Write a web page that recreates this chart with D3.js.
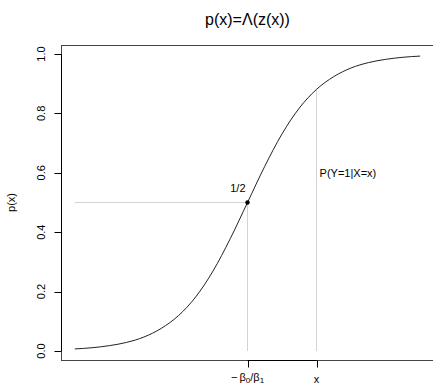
<!DOCTYPE html>
<html>
<head>
<meta charset="utf-8">
<script src="https://cdn.jsdelivr.net/npm/d3@7"></script>
<style>
  body { margin: 0; background: #fff; }
  svg { display: block; font-family: "Liberation Sans", Arial, sans-serif; }
</style>
</head>
<body>
<div id="chart"></div>
<script>
// values (x in units of beta1, centred on -beta0/beta1)
const curveX = [-5, -4.5, -4, -3.5, -3, -2.5, -2, -1.5, -1, -0.5, 0, 0.5, 1, 1.5, 2, 2.5, 3, 3.5, 4, 4.5, 5];
const curveP = [0.007, 0.011, 0.018, 0.029, 0.047, 0.076, 0.119, 0.182, 0.269, 0.378, 0.5,
  0.622, 0.731, 0.818, 0.881, 0.924, 0.953, 0.971, 0.982, 0.989, 0.993];
const yTicks = [0, 0.2, 0.4, 0.6, 0.8, 1.0];
const yTickLabels = ['0.0', '0.2', '0.4', '0.6', '0.8', '1.0'];
const xMarks = [0, 2];
const midP = 0.5;

const config = {
  width: 433,
  height: 386,
  plot: {left: 61, right: 434, top: 45, bottom: 360}
};

const svg = d3.select('#chart').append('svg')
  .attr('width', config.width)
  .attr('height', config.height);

const x = d3.scaleLinear().domain([-5.4, 5.4]).range([config.plot.left, config.plot.right]);
const y = d3.scaleLinear().domain([0, 1]).range([351, 54]);

const points = curveX.map((v, i) => ({x: v, p: curveP[i]}));

// reference lines
svg.append('line')
  .attr('x1', x(curveX[0])).attr('x2', x(xMarks[0]))
  .attr('y1', y(midP)).attr('y2', y(midP))
  .attr('stroke', '#d3d3d3').attr('stroke-width', 1);
svg.append('line')
  .attr('x1', x(xMarks[0])).attr('x2', x(xMarks[0]))
  .attr('y1', y(midP)).attr('y2', y(0))
  .attr('stroke', '#d3d3d3').attr('stroke-width', 1);
svg.append('line')
  .attr('x1', x(xMarks[1])).attr('x2', x(xMarks[1]))
  .attr('y1', y(curveP[curveX.indexOf(xMarks[1])])).attr('y2', y(0))
  .attr('stroke', '#d3d3d3').attr('stroke-width', 1);

// logistic curve
svg.append('path')
  .datum(points)
  .attr('fill', 'none')
  .attr('stroke', '#222')
  .attr('stroke-width', 1)
  .attr('d', d3.line().x(d => x(d.x)).y(d => y(d.p)).curve(d3.curveMonotoneX));

svg.append('circle')
  .attr('cx', x(xMarks[0])).attr('cy', y(midP))
  .attr('r', 2.2).attr('fill', '#000');

// plot box
svg.append('rect')
  .attr('x', config.plot.left + 0.5).attr('y', config.plot.top + 0.5)
  .attr('width', config.plot.right - config.plot.left)
  .attr('height', config.plot.bottom - config.plot.top)
  .attr('fill', 'none').attr('stroke', '#444').attr('stroke-width', 1);

// y axis
const yAxis = svg.append('g');
yAxis.append('line')
  .attr('x1', config.plot.left + 0.5).attr('x2', config.plot.left + 0.5)
  .attr('y1', y(0)).attr('y2', y(1))
  .attr('stroke', '#000');
yTicks.forEach((t, i) => {
  yAxis.append('line')
    .attr('x1', config.plot.left + 0.5).attr('x2', config.plot.left - 6.5)
    .attr('y1', Math.round(y(t)) + 0.5).attr('y2', Math.round(y(t)) + 0.5)
    .attr('stroke', '#000');
  yAxis.append('text')
    .attr('transform', `translate(45,${y(t)}) rotate(-90)`)
    .attr('text-anchor', 'middle')
    .attr('font-size', 11)
    .attr('fill', '#000')
    .text(yTickLabels[i]);
});
svg.append('text')
  .attr('transform', `translate(15,${(config.plot.top + config.plot.bottom) / 2}) rotate(-90)`)
  .attr('text-anchor', 'middle')
  .attr('font-size', 11)
  .text('p(x)');

// x axis (only the two marked positions)
const xAxis = svg.append('g');
xAxis.append('line')
  .attr('x1', x(xMarks[0])).attr('x2', x(xMarks[1]))
  .attr('y1', config.plot.bottom + 0.5).attr('y2', config.plot.bottom + 0.5)
  .attr('stroke', '#000');
xMarks.forEach(m => {
  xAxis.append('line')
    .attr('x1', Math.round(x(m)) + 0.5).attr('x2', Math.round(x(m)) + 0.5)
    .attr('y1', config.plot.bottom + 0.5).attr('y2', config.plot.bottom + 7.5)
    .attr('stroke', '#000');
});
const lab0 = xAxis.append('text')
  .attr('x', x(xMarks[0])).attr('y', 381)
  .attr('text-anchor', 'middle')
  .attr('font-size', 11);
lab0.append('tspan').text('\u2212\u2009\u03b2');
lab0.append('tspan').attr('font-size', 8).attr('dy', 1.5).text('0');
lab0.append('tspan').attr('dy', -1.5).text('/\u03b2');
lab0.append('tspan').attr('font-size', 8).attr('dy', 1.5).text('1');
xAxis.append('text')
  .attr('x', x(xMarks[1])).attr('y', 383)
  .attr('text-anchor', 'middle')
  .attr('font-size', 11)
  .text('x');

// annotations
svg.append('text')
  .attr('x', x(xMarks[0]) - 2).attr('y', 192)
  .attr('text-anchor', 'end')
  .attr('font-size', 11)
  .text('1/2');
svg.append('text')
  .attr('x', x(xMarks[1]) + 3).attr('y', 177)
  .attr('font-size', 11)
  .text('P(Y=1|X=x)');

// title
svg.append('text')
  .attr('x', (config.plot.left + config.plot.right) / 2).attr('y', 25)
  .attr('text-anchor', 'middle')
  .attr('font-size', 16)
  .text('p(x)=\u039b(z(x))');
</script>
</body>
</html>
